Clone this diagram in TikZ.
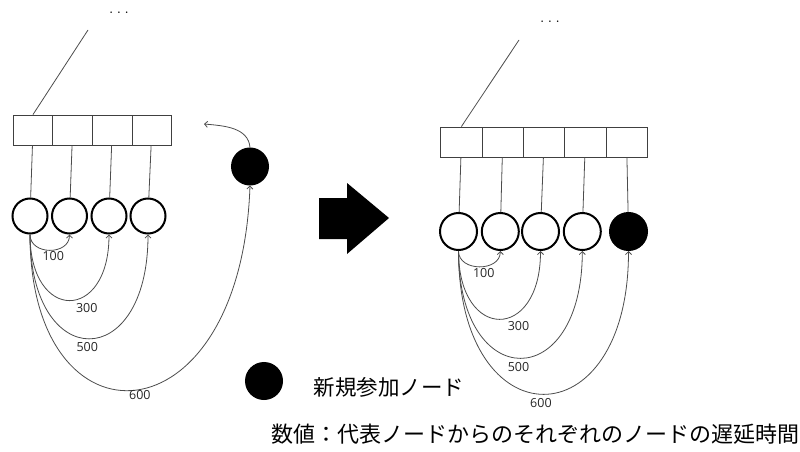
\documentclass[tikz,border=0pt]{standalone}
\usepackage{fontspec}
\usetikzlibrary{arrows.meta,positioning}
\newfontfamily\jpfont{Noto Sans CJK JP}
\newfontfamily\numfont{Open Sans}
\begin{document}
\begin{tikzpicture}[x=1pt,y=1pt,
    cell/.style={draw=black!75,line width=0.9pt,minimum width=39.6pt,minimum height=30pt,inner sep=0pt},
    peer/.style={circle,draw,line width=2pt,minimum size=35pt,inner sep=0pt},
    newpeer/.style={peer,fill=black},
    link/.style={draw=black!70,line width=0.8pt},
    delay/.style={-{Straight Barb[length=3pt,width=6pt]},draw=black!70,line width=0.8pt},
    ms/.style={font=\numfont\fontsize{12.5}{12.5}\selectfont,text=black!85,inner sep=1pt,anchor=north},
    more/.style={font=\fontsize{19}{19}\selectfont,inner sep=0pt},
    jp/.style={font=\jpfont\fontsize{21.5}{21.5}\selectfont}]
  \useasboundingbox (0,0) rectangle (800,451);
  % before the join
  \node[more] (ldots) at (119,438) {.\kern3pt.\kern3pt.};
  \coordinate (ltop) at (88,421);
  \node[cell] (l1) at (33,321) {};
  \node[cell] (l2) at (72.6,321) {};
  \node[cell] (l3) at (112.2,321) {};
  \node[cell] (l4) at (151.8,321) {};
  \node[peer] (lc1) at (30,235) {};
  \node[peer] (lc2) at (69.5,235) {};
  \node[peer] (lc3) at (109,235) {};
  \node[peer] (lc4) at (148,235) {};
  \node[newpeer,minimum size=36pt] (lnew) at (250,284.5) {};
  \coordinate (ljoin) at (204,327);
  \begin{scope}[link]
    \draw (ltop) -- (l1.north);
    \draw (l1) -- (lc1);
    \draw (l2) -- (lc2);
    \draw (l3) -- (lc3);
    \draw (l4) -- (lc4);
  \end{scope}
  \begin{scope}[delay]
    \draw (lnew.north) to[out=95,in=-5] (ljoin);
    \draw (lc1.south) to[out=-90,in=-90,distance=21pt] node[ms,pos=0.56] {100} (lc2.south);
    \draw (lc1.south) to[out=-90,in=-90,distance=88pt] node[ms,pos=0.65,yshift=-7pt] {300} (lc3.south);
    \draw (lc1.south) to[out=-90,in=-90,distance=139pt] node[ms,pos=0.49,yshift=-2pt] {500} (lc4.south);
    \draw (lc1.south) to[out=-90,in=-92,out distance=220pt,in distance=260pt] node[ms,pos=0.51] {600} (lnew.south);
  \end{scope}

  % big arrow
  \fill (319,253) -- (347,253) -- (347,268) -- (389,233) -- (347,197) -- (347,212) -- (319,212) -- cycle;

  % after the join
  \node[more] (rdots) at (550,429) {.\kern3pt.\kern3pt.};
  \coordinate (rtop) at (519,411);
  \node[cell,minimum width=41.3pt] (r1) at (461.4,309) {};
  \node[cell,minimum width=41.3pt] (r2) at (502.7,309) {};
  \node[cell,minimum width=41.3pt] (r3) at (544,309) {};
  \node[cell,minimum width=41.3pt] (r4) at (585.3,309) {};
  \node[cell,minimum width=41.3pt] (r5) at (626.6,309) {};
  \node[peer,minimum size=37pt] (rc1) at (458.5,219.5) {};
  \node[peer,minimum size=37pt] (rc2) at (500.3,219.5) {};
  \node[peer,minimum size=37pt] (rc3) at (540.5,219.5) {};
  \node[peer,minimum size=37pt] (rc4) at (582.3,219.5) {};
  \node[newpeer,minimum size=37pt] (rnew) at (628.5,219.5) {};
  \begin{scope}[link]
    \draw (rtop) -- (r1.north);
    \draw (r1) -- (rc1);
    \draw (r2) -- (rc2);
    \draw (r3) -- (rc3);
    \draw (r4) -- (rc4);
    \draw (r5) -- (rnew);
  \end{scope}
  \begin{scope}[delay]
    \draw (rc1.south) to[out=-90,in=-90,distance=21pt] node[ms,pos=0.57,yshift=-1pt] {100} (rc2.south);
    \draw (rc1.south) to[out=-90,in=-90,distance=91pt] node[ms,pos=0.66,yshift=-8pt] {300} (rc3.south);
    \draw (rc1.south) to[out=-90,in=-90,distance=143pt] node[ms,pos=0.49,yshift=-3pt] {500} (rc4.south);
    \draw (rc1.south) to[out=-90,in=-90,distance=191pt] node[ms,pos=0.49,yshift=-3pt] {600} (rnew.south);
  \end{scope}

  % legend
  \node[newpeer,minimum size=36pt] (key) at (264,70) {};
  \node[jp,right=27pt of key,yshift=-6pt] (keytext) {新規参加ノード};
  \node[jp,font=\jpfont\fontsize{22}{22}\selectfont,anchor=west] (note) at (268,17) {数値：代表ノードからのそれぞれのノードの遅延時間};
\end{tikzpicture}
\end{document}
